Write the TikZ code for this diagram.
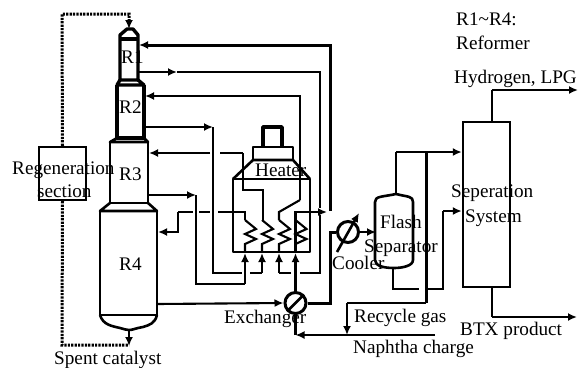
\documentclass[tikz,border=0pt]{standalone}
\usepackage{fontspec}
\setmainfont{Liberation Serif}
\usetikzlibrary{arrows.meta}
\tikzset{
  pipe/.style={line width=2.1pt,line join=miter},
  thick pipe/.style={line width=3pt},
  arr/.style={-{Latex[length=9pt,width=8pt]}},
  vessel/.style={line width=2.6pt,line join=round},
  vesselthick/.style={line width=3.4pt,line join=round},
  equip/.style={draw,line width=2.4pt,inner sep=0pt,rectangle},
  ring/.style={draw,line width=3pt,circle,minimum size=21pt,inner sep=0pt},
  dotline/.style={line width=3pt,dash pattern=on 2.2pt off 1.2pt},
  lab/.style={anchor=base west,inner sep=0pt,font=\fontsize{19.2}{20}\selectfont},
}
\begin{document}
\begin{tikzpicture}[x=1pt,y=-1pt]
\useasboundingbox[fill=white] (0,0) rectangle (580,367);
% ---------- equipment
\node[equip,minimum width=47pt,minimum height=53pt] (regen) at (62.5,173.5) {};
\node[equip,minimum width=47pt,minimum height=165pt] (sep) at (486.5,204.5) {};
\node[ring] (exch) at (295.5,303) {};
\node[ring] (cool) at (348,232) {};
\draw[line width=2.8pt] (exch.225) -- (exch.45);
% reactors
\coordinate (R1eo) at (138,72); \coordinate (R1ei) at (139,45);
\coordinate (R2ei) at (145,96); \coordinate (R2eo) at (144,127);
\coordinate (R3ei) at (149,153); \coordinate (R3eo) at (148,195);
\coordinate (R4ei) at (158,232); \coordinate (R4eo) at (157,304);
\coordinate (R4b) at (129,330); \coordinate (R1t) at (129,29);
\draw[vesselthick] (120,80) -- (120,35) -- (127,29) -- (133,29) -- (138,35) -- (138,80) -- cycle;
\draw[vesselthick] (120,39) -- (138,39);
\draw[vesselthick] (120,80) -- (117,85) -- (144,85) -- (138,80);
\draw[vesselthick] (117,85) -- (117,138) -- (144,138) -- (144,85);
\draw[vessel] (117,138) -- (110,142) -- (148,142) -- (144,138);
\draw[vessel] (110,142) -- (110,203) -- (148,203) -- (148,142);
\draw[vessel] (110,203) -- (100,211) -- (157,211) -- (148,203);
\draw[vessel] (100,211) -- (100,315) -- (157,315) -- (157,211);
\draw[vessel] (100,315) .. controls (103,325) and (112,326) .. (120,328) .. controls (124,329) and (126,330) .. (129,330)
  .. controls (133,330) and (136,328) .. (143,327) .. controls (150,325) and (155,323) .. (157,315);
% heater
\draw[vessel] (233,179) rectangle (310,252);
\draw[vessel] (233,179) -- (253,160) -- (293,160) -- (310,179);
\draw[vessel] (253,147) rectangle (293,160);
\draw[vesselthick] (263,147) -- (263,127) -- (282,127) -- (282,147);
\foreach \cx in {245,262,279,295.5}{
  \draw[pipe] (\cx,220) -- (\cx+11,229) -- (\cx,234) -- (\cx+11,239) -- (\cx,244) -- (\cx,252);
}
% flash separator
\draw[vessel] (375,202) .. controls (375,196) and (382,197) .. (396,194) .. controls (408,197) and (413,196) .. (413,202)
  -- (413,260) .. controls (413,266) and (402,268) .. (394,268) .. controls (384,268) and (375,266) .. (375,260) -- cycle;
% ---------- catalyst loop
\draw[dotline] (regen.north) -- (62,14) -- (129,14) -- (129,22);
\draw[pipe,arr] (129,20) -- (R1t);
\draw[dotline] (regen.south) -- (62,345) -- (129,345);
\draw[pipe,arr] (R4b) -- (129,346);
% ---------- reactor feeds and effluents
\draw[thick pipe,arr] (330,211) -- (330,45) -- (R1ei);
\draw[pipe,arr] (R1eo) -- (177,72);
\draw[pipe] (177,72) -- (320,72) -- (320,208);
\draw[pipe] (320,215) -- (320,273) -- (300,273);
\draw[pipe] (291,273) -- (279,273);
\draw[pipe,arr] (279,273) -- (279,253);
\draw[pipe,arr] (300,200) -- (300,96) -- (R2ei);
\draw[pipe] (300,200) -- (279,212) -- (279,220);
\draw[pipe,arr] (R2eo) -- (213,127);
\draw[pipe] (213,127) -- (213,273) -- (242,273);
\draw[pipe] (250,273) -- (262,273);
\draw[pipe,arr] (262,273) -- (262,253);
\draw[pipe,arr] (210,153) -- (R3ei);
\draw[pipe] (243,153) -- (220,153);
\draw[pipe] (243,153) -- (243,190) -- (263,190) -- (263,220);
\draw[pipe,arr] (R3eo) -- (196,195);
\draw[pipe] (196,195) -- (196,284) -- (245,284);
\draw[pipe,arr] (245,284) -- (245,253);
\draw[pipe,arr] (178,212) -- (178,232) -- (R4ei);
\draw[pipe] (178,212) -- (193,212);
\draw[pipe] (199,212) -- (210,212);
\draw[pipe] (218,212) -- (245,212) -- (245,220);
\draw[pipe,arr] (295.5,220) -- (295.5,212) -- (327,212);
\draw[pipe,arr] (exch.north) -- (295.5,253);
\draw[pipe] (295.5,253) -- (295.5,220);
% ---------- exchanger / cooler / flash
\draw[pipe,arr] (R4eo) -- (exch.west);
\draw[thick pipe] (exch.east) -- (330,303) -- (330,232) -- (cool.west);
\draw[pipe,arr] (cool.east) -- (376,232);
\draw[line width=2.6pt,arr] (337,252) -- (359,213);
\draw[pipe] (396,194) -- (396,152);
\draw[pipe,arr] (396,152) -- (sep.west |- 396,152);
\draw[thick pipe] (426,152) -- (426,303);
\draw[pipe] (426,303) -- (347,303);
\draw[pipe,arr] (347,303) -- (347,335);
\draw[pipe,arr] (435,335) -- (295.5,335);
\draw[pipe] (295.5,335) -- (exch.south);
\draw[pipe] (393,268) -- (393,289) -- (419,289);
\draw[pipe] (428,289) -- (443,289) -- (443,211);
\draw[pipe,arr] (443,211) -- (sep.west |- 443,211);
\draw[pipe] (sep.north -| 492,0) -- (492,90);
\draw[pipe,arr] (492,90) -- (578,90);
\draw[pipe] (sep.south -| 492,0) -- (492,317);
\draw[pipe,arr] (492,317) -- (577,317);
% ---------- labels
\node[lab] (lR1) at (121,63) {R1};
\node[lab] (lR2) at (119,113) {R2};
\node[lab] (lR3) at (119,180) {R3};
\node[lab] (lR4) at (119,270) {R4};
\node[lab] (lRegen) at (12,174) {Regeneration};
\node[lab] (lSect) at (37,197) {section};
\node[lab] (lSpent) at (54,364) {Spent catalyst};
\node[lab] (lHeat) at (255,176) {Heater};
\node[lab] (lExch) at (224,323) {Exchanger};
\node[lab] (lCool) at (332,269) {Cooler};
\node[lab] (lFlash) at (380,228) {Flash};
\node[lab] (lSepr) at (364,252) {Separator};
\node[lab] (lRecy) at (354,322) {Recycle gas};
\node[lab] (lNaph) at (353,353) {Naphtha charge};
\node[lab] (lBTX) at (460,335) {BTX product};
\node[lab] (lSeper) at (451,197) {Seperation};
\node[lab] (lSyst) at (465,222) {System};
\node[lab] (lKey) at (456,25) {R1\textasciitilde R4:};
\node[lab] (lRef) at (456,49) {Reformer};
\node[lab] (lHyd) at (454,83) {Hydrogen, LPG};
\end{tikzpicture}
\end{document}
